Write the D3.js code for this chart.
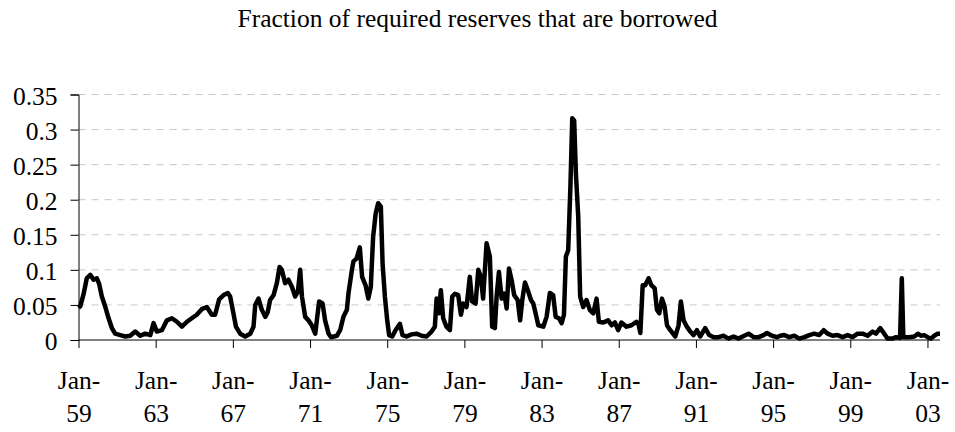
<!DOCTYPE html>
<html>
<head>
<meta charset="utf-8">
<script src="https://cdn.jsdelivr.net/npm/d3@7"></script>
<style>
	body { margin: 0; background: #fff; }
	svg { display: block; }
	svg text { font-family: "Liberation Serif", "Times New Roman", serif; }
</style>
</head>
<body>
<svg id="chart" width="955" height="432"></svg>
<script>
const title = "Fraction of required reserves that are borrowed"

// decimal years
const dates = [
	1959.00, 1959.09, 1959.26, 1959.43, 1959.61, 1959.78, 1959.95, 1960.07, 1960.21, 1960.38,
	1960.56, 1960.73, 1960.90, 1961.16, 1961.42, 1961.68, 1961.94, 1962.20, 1962.46, 1962.72,
	1962.89, 1963.06, 1963.32, 1963.58, 1963.84, 1964.10, 1964.36, 1964.62, 1964.87, 1965.13,
	1965.39, 1965.65, 1965.91, 1966.08, 1966.29, 1966.52, 1966.74, 1966.86, 1967.03, 1967.16,
	1967.38, 1967.64, 1967.90, 1968.07, 1968.16, 1968.33, 1968.50, 1968.68, 1968.81, 1968.93,
	1969.11, 1969.28, 1969.42, 1969.54, 1969.71, 1969.88, 1970.06, 1970.23, 1970.37, 1970.49,
	1970.58, 1970.75, 1970.92, 1971.09, 1971.27, 1971.47, 1971.65, 1971.78, 1971.96, 1972.09,
	1972.39, 1972.56, 1972.73, 1972.91, 1972.99, 1973.17, 1973.25, 1973.41, 1973.58, 1973.70,
	1973.88, 1974.02, 1974.15, 1974.27, 1974.40, 1974.53, 1974.67, 1974.76, 1974.88, 1975.00,
	1975.10, 1975.26, 1975.43, 1975.66, 1975.79, 1976.00, 1976.26, 1976.52, 1976.78, 1977.04,
	1977.30, 1977.47, 1977.56, 1977.68, 1977.78, 1977.90, 1978.07, 1978.25, 1978.37, 1978.51,
	1978.68, 1978.82, 1978.94, 1979.11, 1979.28, 1979.40, 1979.58, 1979.72, 1979.85, 1979.97,
	1980.15, 1980.32, 1980.44, 1980.58, 1980.67, 1980.79, 1980.93, 1981.07, 1981.19, 1981.31,
	1981.45, 1981.58, 1981.76, 1981.89, 1982.00, 1982.14, 1982.31, 1982.45, 1982.57, 1982.69,
	1982.83, 1983.09, 1983.26, 1983.43, 1983.60, 1983.73, 1983.90, 1984.04, 1984.16, 1984.26,
	1984.38, 1984.50, 1984.59, 1984.69, 1984.78, 1984.90, 1985.00, 1985.16, 1985.33, 1985.50,
	1985.68, 1985.85, 1985.97, 1986.20, 1986.45, 1986.63, 1986.80, 1986.97, 1987.14, 1987.40,
	1987.66, 1987.92, 1988.03, 1988.12, 1988.24, 1988.37, 1988.55, 1988.69, 1988.86, 1988.98,
	1989.10, 1989.24, 1989.38, 1989.50, 1989.67, 1989.93, 1990.10, 1990.22, 1990.36, 1990.53,
	1990.71, 1990.88, 1991.05, 1991.22, 1991.48, 1991.69, 1991.92, 1992.17, 1992.43, 1992.69,
	1992.95, 1993.21, 1993.42, 1993.73, 1993.99, 1994.25, 1994.51, 1994.68, 1994.94, 1995.20,
	1995.37, 1995.58, 1995.84, 1996.10, 1996.36, 1996.62, 1996.88, 1997.13, 1997.39, 1997.62,
	1997.83, 1998.08, 1998.34, 1998.60, 1998.86, 1999.12, 1999.38, 1999.64, 1999.90, 2000.16,
	2000.33, 2000.55, 2000.76, 2000.93, 2001.19, 2001.37, 2001.58, 2001.67, 2001.75, 2002.06,
	2002.32, 2002.52, 2002.66, 2002.83, 2003.01, 2003.18, 2003.35, 2003.53, 2003.65
]

const values = [
	0.046, 0.048, 0.065, 0.088, 0.093, 0.086, 0.088, 0.080, 0.062, 0.048,
	0.031, 0.017, 0.009, 0.007, 0.005, 0.006, 0.012, 0.006, 0.009, 0.007,
	0.024, 0.012, 0.014, 0.028, 0.031, 0.026, 0.019, 0.026, 0.031, 0.036,
	0.044, 0.047, 0.036, 0.036, 0.058, 0.064, 0.067, 0.062, 0.038, 0.019,
	0.009, 0.005, 0.009, 0.019, 0.050, 0.059, 0.043, 0.033, 0.040, 0.057,
	0.064, 0.081, 0.104, 0.100, 0.081, 0.086, 0.076, 0.062, 0.069, 0.100,
	0.062, 0.033, 0.028, 0.021, 0.009, 0.055, 0.052, 0.028, 0.009, 0.004,
	0.006, 0.014, 0.033, 0.043, 0.066, 0.100, 0.112, 0.116, 0.132, 0.090,
	0.078, 0.059, 0.076, 0.147, 0.180, 0.195, 0.190, 0.109, 0.062, 0.028,
	0.007, 0.005, 0.014, 0.023, 0.007, 0.005, 0.008, 0.009, 0.006, 0.005,
	0.012, 0.019, 0.059, 0.038, 0.071, 0.031, 0.019, 0.014, 0.062, 0.066,
	0.064, 0.036, 0.052, 0.047, 0.090, 0.055, 0.052, 0.100, 0.090, 0.059,
	0.138, 0.119, 0.019, 0.017, 0.062, 0.097, 0.059, 0.066, 0.045, 0.102,
	0.085, 0.064, 0.057, 0.028, 0.057, 0.082, 0.069, 0.057, 0.052, 0.038,
	0.021, 0.019, 0.033, 0.067, 0.064, 0.033, 0.031, 0.024, 0.036, 0.119,
	0.128, 0.223, 0.316, 0.313, 0.237, 0.176, 0.062, 0.047, 0.057, 0.043,
	0.038, 0.059, 0.026, 0.025, 0.028, 0.021, 0.025, 0.014, 0.025, 0.019,
	0.021, 0.026, 0.022, 0.010, 0.078, 0.078, 0.088, 0.078, 0.074, 0.043,
	0.038, 0.059, 0.047, 0.021, 0.014, 0.005, 0.021, 0.055, 0.028, 0.019,
	0.012, 0.007, 0.014, 0.005, 0.017, 0.007, 0.004, 0.004, 0.006, 0.002,
	0.005, 0.002, 0.005, 0.009, 0.004, 0.004, 0.007, 0.010, 0.006, 0.004,
	0.006, 0.007, 0.004, 0.006, 0.002, 0.004, 0.007, 0.009, 0.007, 0.014,
	0.009, 0.006, 0.007, 0.004, 0.007, 0.004, 0.009, 0.009, 0.006, 0.012,
	0.009, 0.017, 0.009, 0.002, 0.002, 0.004, 0.003, 0.088, 0.004, 0.004,
	0.005, 0.009, 0.006, 0.007, 0.004, 0.002, 0.006, 0.009, 0.009
]

const tickYears = [1959, 1963, 1967, 1971, 1975, 1979, 1983, 1987, 1991, 1995, 1999, 2003]
const tickLabels = ["59", "63", "67", "71", "75", "79", "83", "87", "91", "95", "99", "03"]
const yTicks = [0, 0.05, 0.1, 0.15, 0.2, 0.25, 0.3, 0.35]

const svg = d3.select("#chart")
const plotL = 78.5, plotR = 940, plotT = 94.5, plotB = 340
const serif = "'Liberation Serif', 'Times New Roman', serif"

const x = d3.scaleLinear()
	.domain([1959, 2003.65])
	.range([plotL, plotR])
const y = d3.scaleLinear()
	.domain([0, 0.35])
	.range([plotB, plotT])

svg.append("text")
	.attr("x", 477.5)
	.attr("y", 27)
	.attr("text-anchor", "middle")
	.attr("font-family", serif)
	.style("font-size", "25.5px")
	.text(title)

// dashed gridlines
svg.append("g")
	.selectAll("line")
	.data(yTicks.slice(1))
	.enter().append("line")
		.attr("x1", plotL).attr("x2", plotR)
		.attr("y1", (d) => y(d)).attr("y2", (d) => y(d))
		.attr("stroke", "#c8c8c8")
		.attr("stroke-width", 1)
		.attr("stroke-dasharray", "7,6")

const yAxis = svg.append("g")
	.attr("transform", "translate(" + plotL + ",0)")
	.call(d3.axisLeft(y).tickValues(yTicks).tickSize(8).tickPadding(13)
		.tickFormat((d) => String(+d.toFixed(2))))
	.attr("font-family", serif)
	.attr("font-size", 25.5)
yAxis.selectAll("text")
	.attr("fill", "#000")
	.attr("dy", "0.38em")

const xAxis = svg.append("g")
	.attr("transform", "translate(0," + plotB + ")")
	.call(d3.axisBottom(x).tickValues(tickYears).tickSize(8).tickFormat(""))
	.attr("font-family", serif)
	.attr("font-size", 25.5)
xAxis.select(".domain").attr("d", "M" + plotL + ",0H" + plotR)
xAxis.selectAll(".tick").each(function(d, i) {
	const t = d3.select(this).append("text")
		.attr("fill", "#000")
		.attr("text-anchor", "middle")
	t.append("tspan").attr("x", 0).attr("y", 49).text("Jan-")
	t.append("tspan").attr("x", 0).attr("y", 81.5).text(tickLabels[i])
})
svg.selectAll(".domain, .tick line").attr("stroke", "#000")

const line = d3.line()
	.x((d, i) => x(dates[i]))
	.y((d) => y(d))

svg.append("path")
	.datum(values)
	.attr("fill", "none")
	.attr("stroke", "#000")
	.attr("stroke-width", 4.5)
	.attr("stroke-linejoin", "round")
	.attr("d", line)
</script>
</body>
</html>
